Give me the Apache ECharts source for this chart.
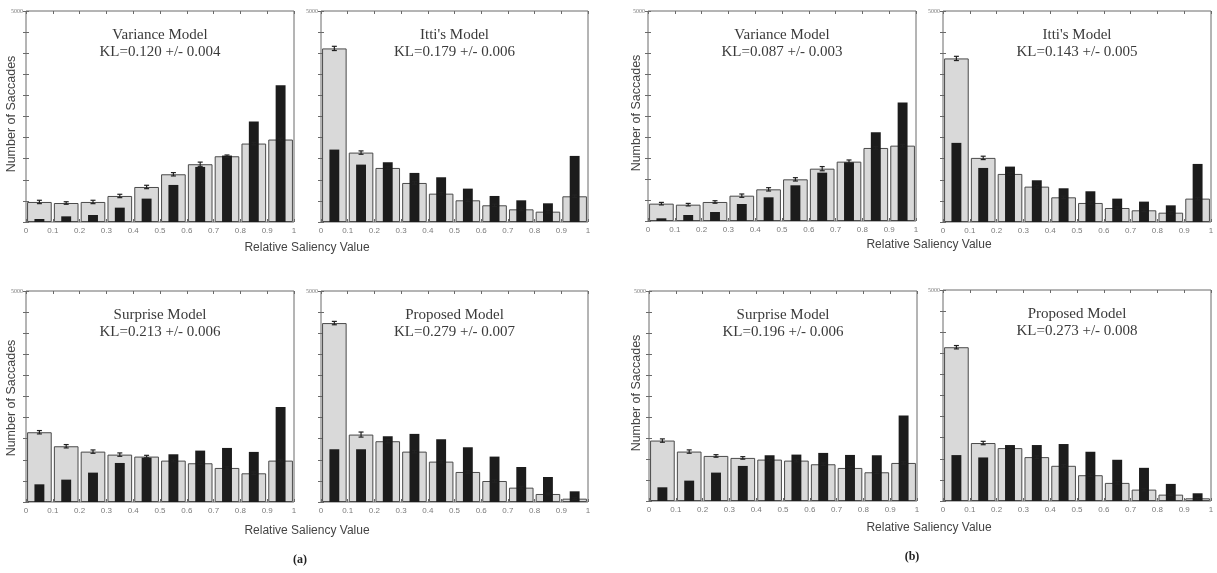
<!DOCTYPE html>
<html>
<head>
<meta charset="utf-8">
<script src="https://cdn.jsdelivr.net/npm/echarts@6/dist/echarts.min.js"></script>
<style>html,body{margin:0;padding:0;background:#fff;}#c{width:1217px;height:573px;}</style>
</head>
<body>
<div id="c"></div>
<script>
// ---------- DATA ----------
const categories = ['0-0.1','0.1-0.2','0.2-0.3','0.3-0.4','0.4-0.5','0.5-0.6','0.6-0.7','0.7-0.8','0.8-0.9','0.9-1'];
const xTickLabels = ['0','0.1','0.2','0.3','0.4','0.5','0.6','0.7','0.8','0.9','1'];
const yTopLabel = '5000';
const modelNames = ['Variance Model', "Itti's Model", 'Surprise Model', 'Proposed Model'];
const klTextA = ['KL=0.120 +/- 0.004', 'KL=0.179 +/- 0.006', 'KL=0.213 +/- 0.006', 'KL=0.279 +/- 0.007'];
const klTextB = ['KL=0.087 +/- 0.003', 'KL=0.143 +/- 0.005', 'KL=0.196 +/- 0.006', 'KL=0.273 +/- 0.008'];
const groupLabels = ['(a)', '(b)'];
const xAxisTitle = 'Relative Saliency Value';
const yAxisTitle = 'Number of Saccades';

// (a) light bars = random/shuffled, dark bars = human
const varianceA_gray  = [475, 450, 475, 617, 830, 1131, 1369, 1558, 1859, 1954];
const varianceA_black = [71, 134, 166, 340, 554, 878, 1305, 1574, 2381, 3243];
const varianceA_err   = [40, 30, 40, 40, 40, 40, 50, 30, 30, 30];
const ittiA_gray  = [4113, 1645, 1281, 925, 672, 514, 396, 300, 245, 609];
const ittiA_black = [1716, 1360, 1416, 1163, 1060, 791, 617, 514, 443, 1566];
const ittiA_err   = [50, 40, 30, 30, 30, 30, 30, 30, 30, 30];
const surpriseA_gray  = [1653, 1321, 1194, 1123, 1076, 981, 918, 807, 680, 981];
const surpriseA_black = [419, 530, 696, 925, 1052, 1131, 1218, 1281, 1187, 2254];
const surpriseA_err   = [40, 40, 40, 40, 30, 30, 30, 30, 30, 30];
const proposedA_gray  = [4240, 1598, 1440, 1194, 957, 712, 498, 340, 190, 79];
const proposedA_black = [1250, 1250, 1558, 1614, 1487, 1297, 1076, 830, 593, 253];
const proposedA_err   = [40, 60, 40, 30, 30, 30, 30, 30, 20, 20];

// (b)
const varianceB_gray  = [413, 389, 453, 603, 754, 992, 1246, 1413, 1739, 1794];
const varianceB_black = [64, 143, 214, 405, 564, 850, 1151, 1397, 2112, 2819];
const varianceB_err   = [30, 30, 30, 40, 40, 40, 50, 40, 30, 30];
const ittiB_gray  = [3876, 1519, 1139, 838, 585, 451, 332, 277, 221, 554];
const ittiB_black = [1875, 1281, 1313, 989, 799, 728, 554, 483, 395, 1376];
const ittiB_err   = [50, 40, 30, 30, 30, 30, 30, 30, 30, 30];
const surpriseB_gray  = [1439, 1177, 1073, 1026, 986, 962, 875, 787, 684, 906];
const surpriseB_black = [326, 485, 676, 835, 1089, 1105, 1145, 1097, 1089, 2035];
const surpriseB_err   = [40, 40, 30, 30, 30, 30, 30, 30, 30, 30];
const proposedB_gray  = [3644, 1374, 1254, 1040, 834, 611, 429, 270, 151, 64];
const proposedB_black = [1088, 1032, 1326, 1326, 1350, 1167, 977, 786, 405, 183];
const proposedB_err   = [40, 40, 30, 30, 30, 30, 30, 30, 20, 20];

// ---------- LAYOUT ----------
const panelData = [
  [modelNames[0], klTextA[0], varianceA_gray, varianceA_black, varianceA_err],
  [modelNames[1], klTextA[1], ittiA_gray, ittiA_black, ittiA_err],
  [modelNames[2], klTextA[2], surpriseA_gray, surpriseA_black, surpriseA_err],
  [modelNames[3], klTextA[3], proposedA_gray, proposedA_black, proposedA_err],
  [modelNames[0], klTextB[0], varianceB_gray, varianceB_black, varianceB_err],
  [modelNames[1], klTextB[1], ittiB_gray, ittiB_black, ittiB_err],
  [modelNames[2], klTextB[2], surpriseB_gray, surpriseB_black, surpriseB_err],
  [modelNames[3], klTextB[3], proposedB_gray, proposedB_black, proposedB_err]
];
const boxes = [
  [26, 11, 268, 211], [321, 11, 267, 211], [26, 291, 268, 211], [321, 291, 267, 211],
  [648, 11, 268, 210], [943, 11, 268, 211], [649, 291, 268, 210], [943, 290, 268, 211]
];

const grid = [], xAxis = [], yAxis = [], series = [], graphic = [];
const frameColor = '#6a6a6a';
const labelColor = '#7a7a7a';

boxes.forEach((b, i) => {
  const [l, t, w, h] = b;
  const [name, kl, gray, black, err] = panelData[i];
  grid.push({left: l, top: t, width: w, height: h, show: true, borderColor: frameColor, borderWidth: 1, backgroundColor: '#fff', containLabel: false});
  const xi = xAxis.length, yi = yAxis.length;
  xAxis.push({gridIndex: i, type: 'category', data: categories, show: false});
  xAxis.push({gridIndex: i, type: 'category', data: categories, show: false});
  xAxis.push({gridIndex: i, type: 'value', min: 0, max: 1, interval: 0.1, position: 'bottom',
    axisLine: {show: false}, splitLine: {show: false},
    axisTick: {show: true, inside: true, length: 3, lineStyle: {color: frameColor}},
    axisLabel: {fontSize: 8, color: labelColor, margin: 5, fontFamily: 'Liberation Sans',
      formatter: v => xTickLabels[Math.round(v * 10)]}});
  xAxis.push({gridIndex: i, type: 'value', min: 0, max: 1, interval: 0.1, position: 'top',
    axisLine: {show: false}, splitLine: {show: false}, axisLabel: {show: false},
    axisTick: {show: true, inside: true, length: 3, lineStyle: {color: frameColor}}});
  yAxis.push({gridIndex: i, type: 'value', min: 0, max: 5000, interval: 500, position: 'left',
    axisLine: {show: false}, splitLine: {show: false},
    axisTick: {show: true, inside: true, length: 3, lineStyle: {color: frameColor}},
    axisLabel: {fontSize: 6, color: labelColor, margin: 3, fontFamily: 'Liberation Serif',
      formatter: v => (v === 5000 ? yTopLabel : '')}});
  yAxis.push({gridIndex: i, type: 'value', min: 0, max: 5000, interval: 500, position: 'right',
    axisLine: {show: false}, splitLine: {show: false}, axisLabel: {show: false},
    axisTick: {show: true, inside: true, length: 3, lineStyle: {color: frameColor}}});

  series.push({type: 'bar', xAxisIndex: xi, yAxisIndex: yi, data: gray, barWidth: '92%',
    itemStyle: {color: '#d9d9d9', borderColor: '#4a4a4a', borderWidth: 1}, silent: true, z: 2});
  series.push({type: 'bar', xAxisIndex: xi + 1, yAxisIndex: yi, data: black, barWidth: '37%',
    itemStyle: {color: '#1c1c1c'}, silent: true, z: 3});
  series.push({type: 'custom', xAxisIndex: xi, yAxisIndex: yi, z: 4, silent: true,
    data: gray.map((v, k) => [k, v, err[k]]),
    renderItem: (params, api) => {
      const x = api.value(0), v = api.value(1), e = api.value(2);
      const p1 = api.coord([x, v + e]), p2 = api.coord([x, v - e]);
      const hw = 2.5;
      const st = {stroke: '#222', lineWidth: 1.2};
      return {type: 'group', children: [
        {type: 'line', shape: {x1: p1[0], y1: p1[1], x2: p2[0], y2: p2[1]}, style: st},
        {type: 'line', shape: {x1: p1[0] - hw, y1: p1[1], x2: p1[0] + hw, y2: p1[1]}, style: st},
        {type: 'line', shape: {x1: p2[0] - hw, y1: p2[1], x2: p2[0] + hw, y2: p2[1]}, style: st}
      ]};
    }});

  const cx = l + w / 2;
  graphic.push({type: 'text', x: cx, y: t + 24, z: 10,
    style: {text: name, font: '15px "Liberation Serif"', fill: '#3a3a3a', textAlign: 'center', textVerticalAlign: 'middle'}});
  graphic.push({type: 'text', x: cx, y: t + 41, z: 10,
    style: {text: kl, font: '15px "Liberation Serif"', fill: '#3a3a3a', textAlign: 'center', textVerticalAlign: 'middle'}});
});

const xTitlePos = [[307, 242], [929, 239], [307, 525], [929, 522]];
xTitlePos.forEach(p => graphic.push({type: 'text', x: p[0], y: p[1],
  style: {text: xAxisTitle, font: '12px "Liberation Sans"', fill: '#444', textAlign: 'center', textVerticalAlign: 'top'}}));
const yTitlePos = [[12, 114], [637, 113], [12, 398], [637, 393]];
yTitlePos.forEach(p => graphic.push({type: 'text', x: p[0], y: p[1], rotation: Math.PI / 2,
  style: {text: yAxisTitle, font: '12.5px "Liberation Sans"', fill: '#444', textAlign: 'center', textVerticalAlign: 'middle'}}));
const groupPos = [[300, 560], [912, 557]];
groupPos.forEach((p, i) => graphic.push({type: 'text', x: p[0], y: p[1],
  style: {text: groupLabels[i], font: 'bold 12px "Liberation Serif"', fill: '#222', textAlign: 'center', textVerticalAlign: 'middle'}}));

const chart = echarts.init(document.getElementById('c'), null, {renderer: 'canvas'});
chart.setOption({animation: false, backgroundColor: '#fff', grid, xAxis, yAxis, series, graphic});
</script>
</body>
</html>
